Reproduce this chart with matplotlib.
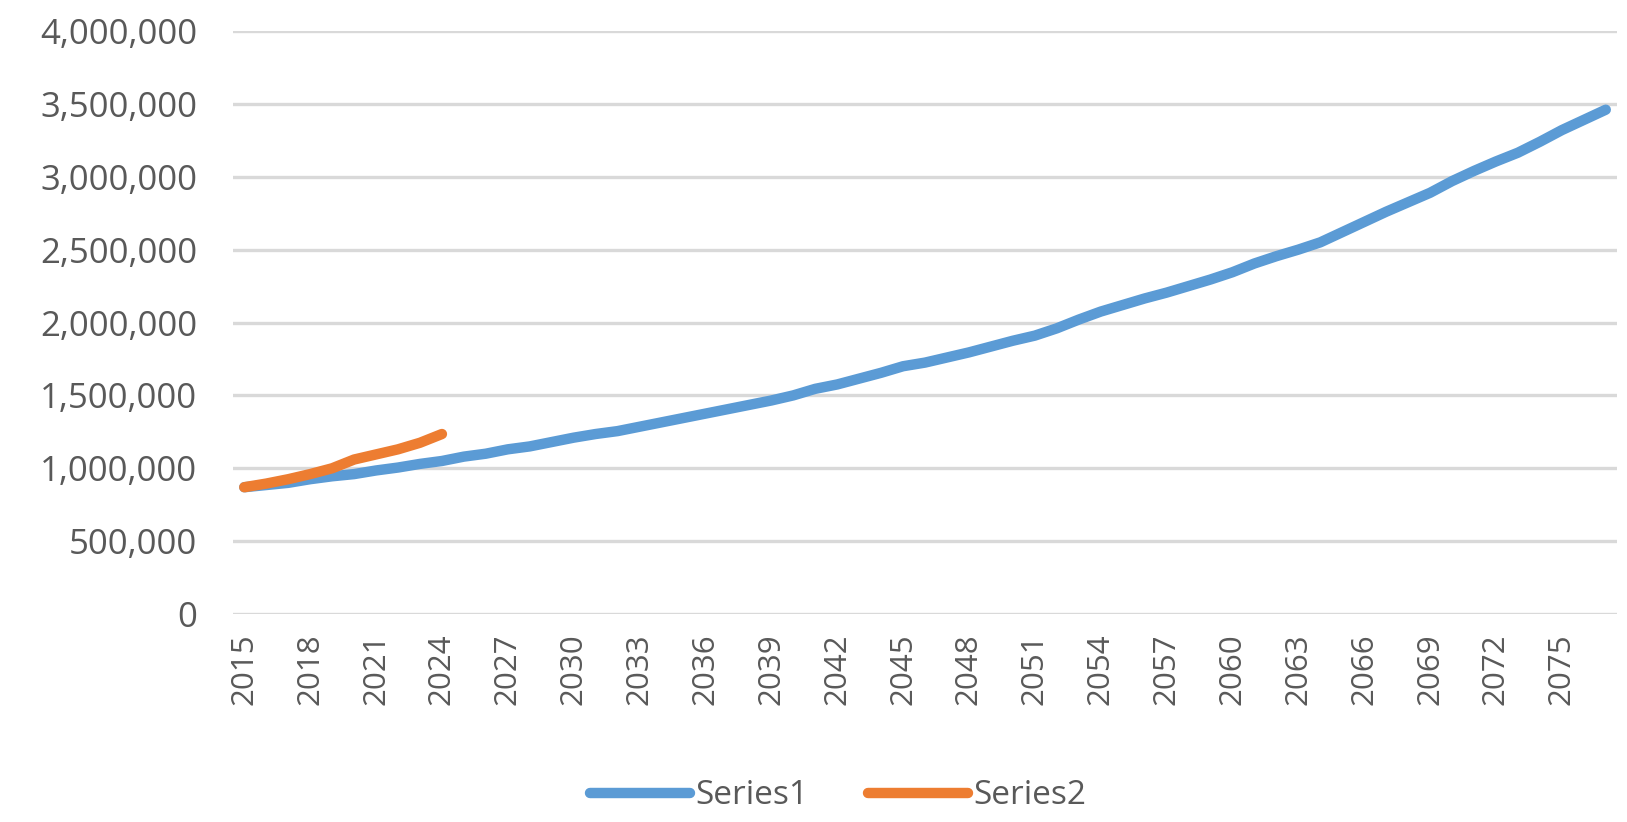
import numpy as np
import matplotlib
matplotlib.use("Agg")
import matplotlib.pyplot as plt
from matplotlib.ticker import FuncFormatter

years = list(range(2015, 2078))
series1 = [870, 885, 900, 925, 945, 960, 985, 1005, 1030, 1050,
           1080, 1100, 1130, 1150, 1180, 1210, 1235, 1255, 1285, 1315,
           1345, 1375, 1405, 1435, 1465, 1500, 1545, 1575, 1615, 1655,
           1700, 1725, 1760, 1795, 1835, 1875, 1910, 1960, 2020, 2075,
           2120, 2165, 2205, 2250, 2295, 2345, 2405, 2455, 2500, 2550,
           2620, 2690, 2760, 2825, 2890, 2970, 3040, 3105, 3165, 3240,
           3320, 3390, 3460]
series2 = [870, 895, 925, 960, 1000, 1060, 1095, 1130, 1175, 1235]
series1 = [v * 1000 for v in series1]
series2 = [v * 1000 for v in series2]

blue = "#5B9BD5"
orange = "#ED7D31"
grey_txt = "#595959"

plt.rcParams["font.family"] = ["Open Sans", "DejaVu Sans"]

fig = plt.figure(figsize=(16.27, 8.22), dpi=100)
ax = fig.add_axes([0.1434, 0.253, 0.8503, 0.7093])

x1 = np.arange(len(series1))
x2 = np.arange(len(series2))
ax.plot(x1, series1, color=blue, lw=7.5, solid_capstyle="round", solid_joinstyle="round", label="Series1", zorder=3)
ax.plot(x2, series2, color=orange, lw=7.5, solid_capstyle="round", solid_joinstyle="round", label="Series2", zorder=4)

ax.set_xlim(-0.5, len(years) - 0.5)
ax.set_ylim(0, 4000000)
ax.set_yticks(np.arange(0, 4000001, 500000))
ax.yaxis.set_major_formatter(FuncFormatter(lambda v, p: f"{int(v):,}"))
ax.set_xticks(x1[::3])
ax.set_xticklabels([str(y) for y in years[::3]], rotation=90)

ax.grid(axis="y", color="#D9D9D9", lw=2.4, zorder=0)
ax.set_axisbelow(True)
for s in ax.spines.values():
    s.set_visible(False)
ax.tick_params(axis="both", length=0, colors=grey_txt)
ax.tick_params(axis="y", pad=26, labelsize=25)
ax.tick_params(axis="x", pad=14, labelsize=22.5)

leg = fig.legend(loc="center", bbox_to_anchor=(0.515, 0.032), ncol=2, frameon=False,
                 fontsize=24, handlelength=3.0, columnspacing=1.8, handletextpad=0.15)
for t in leg.get_texts():
    t.set_color(grey_txt)

fig.savefig("out.png", dpi=100)
